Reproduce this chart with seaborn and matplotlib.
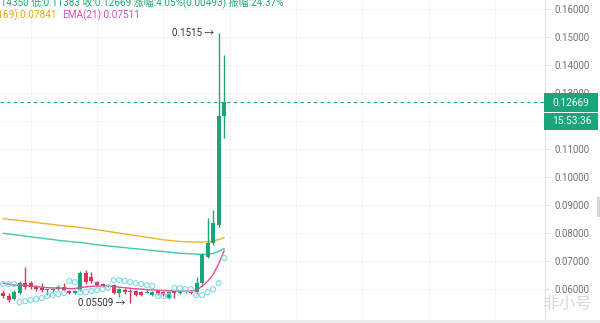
import numpy as np
import pandas as pd
import matplotlib
matplotlib.use("Agg")
import matplotlib.pyplot as plt
from matplotlib.patches import Rectangle
import seaborn as sns

# ---------------- data ----------------
opens = [0.0586, 0.0575, 0.0564, 0.0586, 0.0621, 0.0621, 0.0607, 0.0604, 0.0596, 0.0596,
         0.0600, 0.0607, 0.0593, 0.0586, 0.0596, 0.0657, 0.0643, 0.0625, 0.0618, 0.0611,
         0.0614, 0.0586, 0.0596, 0.0593, 0.0593, 0.0589, 0.0586, 0.0579, 0.0593, 0.0589,
         0.0568, 0.0593, 0.0586, 0.0589, 0.0593, 0.0589, 0.0621, 0.0714, 0.0764, 0.0829,
         0.12176]
highs = [0.0596, 0.0586, 0.0596, 0.0629, 0.0679, 0.0629, 0.0614, 0.0621, 0.0600, 0.0604,
         0.0614, 0.0621, 0.0596, 0.0596, 0.0664, 0.0668, 0.0661, 0.0629, 0.0621, 0.0618,
         0.0618, 0.0604, 0.0604, 0.0600, 0.0596, 0.0593, 0.0596, 0.0593, 0.0596, 0.0593,
         0.0593, 0.0596, 0.0593, 0.0596, 0.0596, 0.0643, 0.0729, 0.0854, 0.0882, 0.1515,
         0.14350]
lows = [0.0568, 0.0554, 0.0561, 0.0582, 0.0600, 0.0600, 0.0593, 0.0589, 0.0579, 0.0586,
        0.0596, 0.0593, 0.0582, 0.0582, 0.0593, 0.0618, 0.0621, 0.0611, 0.0607, 0.0607,
        0.0582, 0.0571, 0.0582, 0.05509, 0.0575, 0.0575, 0.0586, 0.0575, 0.0579, 0.0575,
        0.0564, 0.0568, 0.0582, 0.0586, 0.0582, 0.0582, 0.0618, 0.0711, 0.0757, 0.0822,
        0.11383]
closes = [0.0575, 0.0561, 0.0589, 0.0621, 0.0607, 0.0607, 0.0600, 0.0596, 0.0600, 0.0600,
          0.0607, 0.0596, 0.0586, 0.0593, 0.0657, 0.0625, 0.0629, 0.0614, 0.0611, 0.0614,
          0.0586, 0.0600, 0.0589, 0.0589, 0.0579, 0.0579, 0.0589, 0.0589, 0.0582, 0.0579,
          0.0589, 0.0586, 0.0589, 0.0593, 0.0586, 0.0621, 0.0721, 0.0764, 0.0836, 0.12176,
          0.12669]
ema_long = [0.0852, 0.0849, 0.0847, 0.0845, 0.0843, 0.0840, 0.0838, 0.0835, 0.0833, 0.0831,
            0.0828, 0.0826, 0.0824, 0.0822, 0.0820, 0.0818, 0.0815, 0.0812, 0.0809, 0.0806,
            0.0803, 0.0800, 0.0797, 0.0794, 0.0791, 0.0788, 0.0785, 0.0782, 0.0779, 0.0776,
            0.0774, 0.0772, 0.0770, 0.0769, 0.0768, 0.0768, 0.0768, 0.0769, 0.0771, 0.0777,
            0.07841]
ema_mid = [0.0799, 0.0797, 0.0794, 0.0792, 0.0789, 0.0787, 0.0784, 0.0782, 0.0779, 0.0777,
           0.0774, 0.0772, 0.0770, 0.0768, 0.0766, 0.0764, 0.0761, 0.0758, 0.0756, 0.0754,
           0.0752, 0.0750, 0.0748, 0.0746, 0.0744, 0.0742, 0.0740, 0.0738, 0.0736, 0.0734,
           0.0732, 0.0730, 0.0728, 0.0727, 0.0726, 0.0725, 0.0724, 0.0724, 0.0727, 0.0735,
           0.0745]
ema21 = [0.0621, 0.0618, 0.0614, 0.0614, 0.0614, 0.0611, 0.0609, 0.0607, 0.0605, 0.0604,
         0.0604, 0.0603, 0.0602, 0.0602, 0.0606, 0.0608, 0.0610, 0.0611, 0.0611, 0.0611,
         0.0609, 0.0607, 0.0605, 0.0603, 0.0601, 0.0600, 0.0598, 0.0597, 0.0596, 0.0595,
         0.0594, 0.0594, 0.0593, 0.0593, 0.0593, 0.0596, 0.0610, 0.0628, 0.0652, 0.0690,
         0.0738]
sar = [0.0618, 0.0618, 0.0618, 0.0554, 0.0557, 0.0561, 0.0564, 0.0568, 0.0575, 0.0579,
       0.0582, 0.0586, 0.0629, 0.0625, 0.0589, 0.0589, 0.0593, 0.0596, 0.0600, 0.0604,
       0.0632, 0.0632, 0.0629, 0.0625, 0.0621, 0.0618, 0.0614, 0.0611, 0.0575, 0.0575,
       0.0575, 0.0604, 0.0604, 0.0600, 0.0600, 0.0579, 0.0579, 0.0589, 0.0600, 0.0621,
       0.0711]
price_ticks = [0.06, 0.07, 0.08, 0.09, 0.10, 0.11, 0.12, 0.13, 0.14, 0.15, 0.16]
last_price = 0.12669
max_price = 0.1515
min_price = 0.05509

# ---------------- style ----------------
sns.set_theme(style="white")
plt.rcParams["font.family"] = ["Roboto", "Noto Sans CJK SC", "DejaVu Sans"]

W, H = 600, 323
fig = plt.figure(figsize=(W / 100, H / 100), dpi=100)
ax = fig.add_axes([0, 0, 545 / W, 1])

UP = "#1ba57a"
DOWN = "#e0345a"

idx = np.arange(len(opens))
df = pd.DataFrame({"i": idx, "o": opens, "h": highs, "l": lows, "c": closes,
                   "e1": ema_long, "e2": ema_mid, "e3": ema21, "sar": sar})
up = df["c"] >= df["o"]
colors = np.where(up, UP, DOWN)

# wicks
ax.vlines(df["i"], df["l"], df["h"], colors=colors, lw=1.0, zorder=3)
# bodies
body_bottom = np.minimum(df["o"], df["c"])
body_h = np.maximum(np.abs(df["c"] - df["o"]), 0.00012)
ax.bar(df["i"], body_h, bottom=body_bottom, width=0.72, color=colors, lw=0, zorder=4)

# moving averages
sns.lineplot(data=df, x="i", y="e1", ax=ax, color="#f0b429", lw=1.0, zorder=2)
sns.lineplot(data=df, x="i", y="e2", ax=ax, color="#3fc9b0", lw=1.0, zorder=2)
sns.lineplot(data=df, x="i", y="e3", ax=ax, color="#d9508e", lw=1.0, zorder=5)

# parabolic SAR
sns.scatterplot(data=df, x="i", y="sar", ax=ax, s=13, marker="o",
                edgecolor="#80d8e6", linewidth=0.8, zorder=5)
ax.collections[-1].set_facecolor("none")

# last price dashed line
ax.axhline(last_price, ls=(0, (3, 3)), color=UP, lw=0.8, zorder=1)

# annotations
ax.text(idx[39] - 0.9, max_price, "0.1515 →", ha="right", va="center",
        fontsize=7, color="#333333")
ax.text(idx[23] - 0.9, min_price, "0.05509 →", ha="right", va="center",
        fontsize=7, color="#333333")

# axes
ax.set_xlim(-0.54, 98.0)
ax.set_ylim(0.0479, 0.1632)
ax.set_xticks([5, 17, 29, 41, 53, 65, 77, 89])
ax.set_xticklabels([])
ax.tick_params(axis="x", length=0)
ax.set_yticks(price_ticks)
ax.set_yticklabels([f"{v:.5f}" for v in price_ticks])
ax.yaxis.tick_right()
ax.tick_params(axis="y", direction="out", length=3, pad=4, labelsize=7,
               color="#d8d8d8", labelcolor="#707070", width=0.6)
ax.grid(True, color="#f3f3f3", lw=0.6)
ax.set_xlabel("")
ax.set_ylabel("")
for s in ["top", "left", "bottom"]:
    ax.spines[s].set_visible(False)
ax.spines["right"].set_color("#e2e2e2")
ax.spines["right"].set_linewidth(0.8)


def fx(x):
    return x / W


def fy(y):
    return 1 - y / H


# header text
fig.text(fx(283), fy(6.5), "高:0.14350 低:0.11383 收:0.12669 涨幅:4.05%(0.00493) 振幅:24.37%",
         ha="right", va="baseline", fontsize=7.2, color="#1fa971")
fig.text(fx(57), fy(18), "EMA(169):0.07841", ha="right", va="baseline",
         fontsize=7.2, color="#e6a817")
fig.text(fx(62), fy(18), "EMA(21):0.07511", ha="left", va="baseline",
         fontsize=7.2, color="#d04fbd")

# price / countdown boxes
fig.add_artist(Rectangle((fx(544), fy(112)), 54 / W, 19 / H, transform=fig.transFigure,
                         color=UP, lw=0, zorder=5))
fig.add_artist(Rectangle((fx(544), fy(130)), 54 / W, 17 / H, transform=fig.transFigure,
                         color=UP, lw=0, zorder=5))
fig.text(fx(552), fy(102.5), "0.12669", ha="left", va="center", fontsize=7.3,
         color="white", zorder=6)
fig.text(fx(552), fy(121.5), "15:53:36", ha="left", va="center", fontsize=7.3,
         color="white", zorder=6)

# scrollbar nub and bottom strip
fig.add_artist(Rectangle((fx(597), fy(217)), 3 / W, 20 / H, transform=fig.transFigure,
                         color="#d6d6d6", lw=0, zorder=5))
fig.add_artist(Rectangle((0, 0), 1, 3 / H, transform=fig.transFigure,
                         color="#ececec", lw=0, zorder=5))

# watermark
fig.text(fx(592), fy(304), "非小号", ha="right", va="center", fontsize=12,
         color="#d4d4d4", alpha=0.9, zorder=6)

fig.savefig("out.png", dpi=100)
